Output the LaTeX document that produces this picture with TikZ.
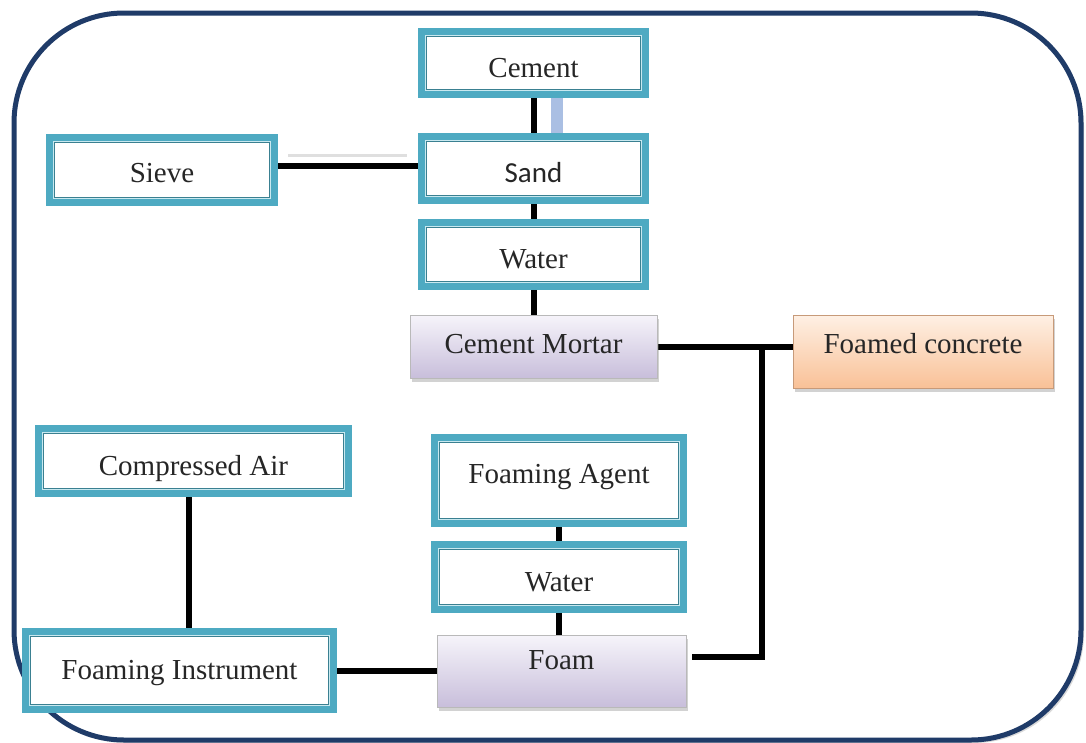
\documentclass[tikz,border=0pt]{standalone}
\usepackage{fontspec}
\setmainfont{Liberation Serif}
\newfontfamily\sandfont{Carlito}
\usetikzlibrary{backgrounds,shadows}
\definecolor{boxteal}{HTML}{4EAAC2}
\definecolor{bandcyan}{HTML}{C9E9F0}
\definecolor{framenavy}{HTML}{1F3B68}
\definecolor{lavtop}{HTML}{F6F4FA}
\definecolor{lavbot}{HTML}{C8BEDB}
\definecolor{peachtop}{HTML}{FEF0E4}
\definecolor{peachbot}{HTML}{F9C197}
\definecolor{barblue}{HTML}{AABFE3}
\begin{document}
\begin{tikzpicture}[x=1pt, y=-1pt, font=\fontsize{29}{33}\selectfont, text=black!85,
	framed/.style = {draw=boxteal, line width=7pt, fill=bandcyan, text height=28pt, text depth=0pt,
		path picture={\draw[draw=boxteal!75!black, line width=1pt, fill=white] ([shift={(5pt,-5pt)}]path picture bounding box.north west) rectangle ([shift={(-5pt,5pt)}]path picture bounding box.south east);}},
	mixbox/.style = {draw=gray!55, line width=0.8pt, top color=lavtop, bottom color=lavbot,
		drop shadow={shadow xshift=2pt, shadow yshift=-4pt, opacity=0.35}},
	peachbox/.style = {draw=peachbot!80!black, line width=0.6pt, top color=peachtop, bottom color=peachbot,
		drop shadow={shadow xshift=2pt, shadow yshift=-4pt, opacity=0.35}},
	link/.style = {line width=6pt, black}]

	\useasboundingbox (0,0) rectangle (1086,742);

	\node[framed, minimum width=224pt, minimum height=63pt] (cement) at (533.5,63) {Cement};
	\node[framed, minimum width=224pt, minimum height=64pt] (sand) at (533.5,168.5) {\sandfont Sand};
	\node[framed, minimum width=225pt, minimum height=65pt, text depth=3pt] (sieve) at (162,170) {Sieve};
	\node[framed, minimum width=224pt, minimum height=64pt] (water) at (533.5,254.5) {Water};
	\node[mixbox, minimum width=247pt, minimum height=63pt, text depth=6pt] (mortar) at (533.5,346.5) {Cement Mortar};
	\node[peachbox, minimum width=260pt, minimum height=73pt, text depth=16pt] (concrete) at (923,351.5) {Foamed concrete};
	\node[framed, minimum width=310pt, minimum height=65pt] (air) at (193.5,461) {Compressed Air};
	\node[framed, minimum width=249pt, minimum height=86pt, text depth=22pt] (agent) at (559,480.5) {Foaming Agent};
	\node[framed, minimum width=249pt, minimum height=65pt] (water2) at (559,577) {Water};
	\node[mixbox, minimum width=249pt, minimum height=72pt, text depth=22pt] (foam) at (561.5,671) {Foam};
	\node[framed, minimum width=308pt, minimum height=78pt, text depth=11pt] (instrument) at (179.5,670.5) {Foaming Instrument};

	\coordinate (joint) at (762,347);

	\begin{scope}[on background layer]
		% outer frame
		\draw[framenavy, line width=5pt, rounded corners=110pt, fill=white,
			drop shadow={shadow xshift=3pt, shadow yshift=-3pt, opacity=0.3}] (14,13) rectangle (1081,740);
		\fill[barblue] ([xshift=17pt]cement.south) rectangle ([xshift=29pt]sand.north);
		\draw[gray!25, line width=3pt] (288,155) -- (407,155);

		\draw[link] (cement) -- (sand);
		\draw[link] (sand) -- (water);
		\draw[link] (water) -- (mortar);
		\draw[link] ([yshift=4pt]sieve.east) -- ([yshift=4pt]sieve.east -| sand.west);
		\draw[link] (mortar.east) -- (mortar.east -| concrete.west);
		\draw[link] ([xshift=6pt,yshift=14pt]foam.east) -| (joint);
		\draw[link] (agent) -- (water2);
		\draw[link] (water2.south) -- (water2.south |- foam.north);
		\draw[link] ([xshift=-5pt]air.south) -- ([xshift=-5pt]air.south |- instrument.north);
		\draw[link] (instrument.east) -- (instrument.east -| foam.west);
	\end{scope}
\end{tikzpicture}
\end{document}
